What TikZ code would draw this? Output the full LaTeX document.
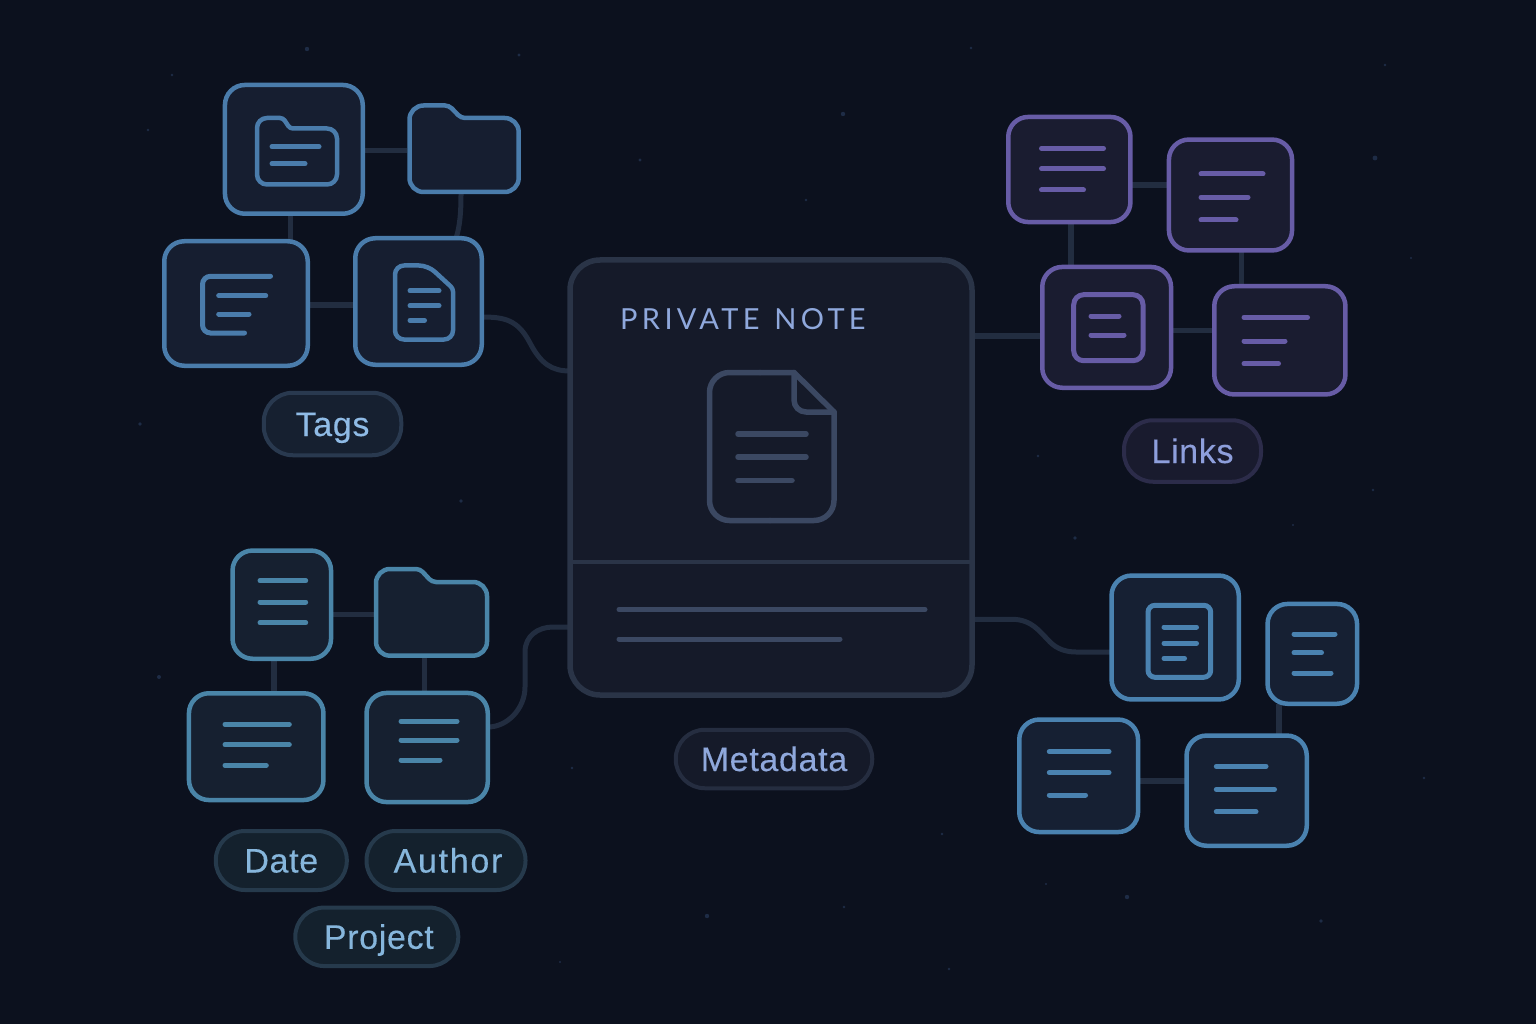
\documentclass[tikz,border=0pt]{standalone}
\usepackage{fontspec}
\setmainfont{Liberation Sans}
\newfontfamily\pillfont[LetterSpace=2,FakeBold=0.25]{Liberation Sans}
\newfontfamily\authorfont[LetterSpace=5,FakeBold=0.25]{Liberation Sans}
\newfontfamily\titlefont[LetterSpace=15]{Lato}
\usetikzlibrary{fit}
\definecolor{bgc}{HTML}{0C111E}
\definecolor{conc}{HTML}{222D40}
\definecolor{cardf}{HTML}{151A29}
\definecolor{cards}{HTML}{2A3447}
\definecolor{cardi}{HTML}{3B4862}
\definecolor{tagS}{HTML}{4A7CAB}
\definecolor{tagF}{HTML}{161E30}
\definecolor{prpS}{HTML}{675CA6}
\definecolor{prpF}{HTML}{1A1C30}
\definecolor{tealS}{HTML}{4A85A8}
\definecolor{tealF}{HTML}{162030}
\definecolor{rgtS}{HTML}{4A82B0}
\definecolor{rgtF}{HTML}{162033}
\definecolor{starc}{HTML}{1E2C46}
\pgfdeclarelayer{bgl}\pgfdeclarelayer{connl}
\pgfsetlayers{bgl,connl,main}
\tikzset{
  conn/.style={draw=conc,line width=5.5pt},
  curveconn/.style={draw=conc,line width=5pt},
  boxbase/.style={line width=4.5pt,rounded corners=20pt,inner sep=0pt,outer sep=0pt},
  tagbox/.style={boxbase,draw=tagS,fill=tagF},
  prpbox/.style={boxbase,draw=prpS,fill=prpF},
  tealbox/.style={boxbase,draw=tealS,fill=tealF},
  rgtbox/.style={boxbase,draw=rgtS,fill=rgtF},
  anchorbox/.style={inner sep=0pt,outer sep=0pt},
  tagline/.style={draw=tagS,line width=5pt,line cap=round,rounded corners=8pt},
  prpline/.style={draw=prpS,line width=5pt,line cap=round,rounded corners=8pt},
  tealline/.style={draw=tealS,line width=5pt,line cap=round},
  rgtline/.style={draw=rgtS,line width=5pt,line cap=round,rounded corners=7pt},
  cardline/.style={draw=cardi,line width=5.5pt,line cap=round,line join=round},
  pill/.style={line width=4pt,rounded corners=29pt,inner sep=0pt,outer sep=0pt,
    text height=24pt,text depth=0pt,font=\pillfont\fontsize{34}{40}\selectfont},
  tagpill/.style={pill,draw=HTMLpillA,fill=HTMLfillA,text=HTMLtextA},
  prppill/.style={pill,draw=HTMLpillB,fill=HTMLfillB,text=HTMLtextB},
  tealpill/.style={pill,draw=HTMLpillC,fill=HTMLfillC,text=HTMLtextC},
  metapill/.style={pill,draw=HTMLpillD,fill=HTMLfillD,text=HTMLtextD},
  star/.style={fill=starc,draw=none},
}
\definecolor{HTMLpillA}{HTML}{29394F}
\definecolor{HTMLfillA}{HTML}{162030}
\definecolor{HTMLtextA}{HTML}{8FBBE6}
\definecolor{HTMLpillB}{HTML}{2C2C4A}
\definecolor{HTMLfillB}{HTML}{191B2E}
\definecolor{HTMLtextB}{HTML}{8E9FDC}
\definecolor{HTMLpillC}{HTML}{263A4C}
\definecolor{HTMLfillC}{HTML}{14212D}
\definecolor{HTMLtextC}{HTML}{86B6DC}
\definecolor{HTMLpillD}{HTML}{252D40}
\definecolor{HTMLfillD}{HTML}{151A29}
\definecolor{HTMLtextD}{HTML}{8FA8DC}
\newcommand{\bxn}[6]{\node[#6,fit={(#2+2.25,#3+2.25)(#4-2.25,#5-2.25)}] (#1) {};}
\newcommand{\lin}[4]{\draw[#1] (#2,#4) -- (#3,#4);}
\begin{document}
\begin{tikzpicture}[x=1pt,y=-1pt]
\useasboundingbox (0,0) rectangle (1536,1024);
\begin{pgfonlayer}{bgl}
\fill[bgc] (0,0) rectangle (1536,1024);
\foreach \px/\py/\r in {307/49/2.2,519/55/1.6,843/114/2.2,1375/158/2.4,172/75/1.4,148/130/1.4,640/160/1.6,806/200/1.4,140/424/1.8,461/501/1.8,159/677/2,572/768/1.4,707/916/2.2,1127/897/2.2,1321/921/1.8,1424/778/1.4,1373/490/1.4,1075/538/1.8,1038/456/1.4,942/834/1.4,949/969/1.4,844/907/1.4,971/48/1.4,1385/65/1.4,1411/258/1.2,1293/525/1.2,560/962/1.2,1046/884/1.2}
  \fill[star] (\px,\py) circle (\r);
\end{pgfonlayer}

% Central card
\node[line width=5.5pt,draw=cards,fill=cardf,rounded corners=30pt,inner sep=0pt,outer sep=0pt,fit={(570,260)(972,695)}] (card) {};
\node[anchor=base west,text=HTMLtextD,font=\titlefont\fontsize{29}{34}\selectfont,inner sep=0pt] (title) at (620,329) {PRIVATE\hspace{3pt} NOTE};
\draw[cardline,rounded corners=20pt] (770,520.5) -- (709.5,520.5) -- (709.5,372.5) -- (760,372.5);
\draw[cardline] (760,372.5) -- (794,372.5) -- (834,412);
\draw[cardline,rounded corners=20pt] (770,520.5) -- (834,520.5) -- (834,412);
\draw[cardline,rounded corners=12pt] (794,372.5) -- (794,412) -- (834,412);
\lin{cardline}{738}{806}{434}
\lin{cardline}{738}{806}{457}
\lin{cardline}{738}{792}{480.5}
\draw[draw=cards,line width=4.5pt] (card.west |- 0,562) -- (card.east |- 0,562);
\lin{draw=cardi,line width=5pt,line cap=round}{619}{925}{609.5}
\lin{draw=cardi,line width=5pt,line cap=round}{619}{840}{639}

% Tags group
\bxn{ta}{222.7}{82.7}{365}{216}{tagbox}
\node[anchorbox,fit={(407,103)(520.7,194)}] (tb) {};
\fill[tagF] (464,192) [rounded corners=14pt] -- (409.5,192) -- (409.5,105.5) [rounded corners=4pt] -- (449,105.5) -- (461,118) [rounded corners=14pt] -- (518.7,118) -- (518.7,192) -- cycle;
\draw[tagS,line width=4.5pt] (464,192) [rounded corners=14pt] -- (409.5,192) -- (409.5,105.5) [rounded corners=4pt] -- (449,105.5) -- (461,118) [rounded corners=14pt] -- (518.7,118) -- (518.7,192) -- (464,192);
\bxn{tc}{162}{239}{310}{368}{tagbox}
\bxn{td}{353}{236}{484}{367}{tagbox}
\draw[tagS,line width=4.5pt] (300,184.5) [rounded corners=10pt] -- (257,184.5) -- (257,118) [rounded corners=3pt] -- (283,118) -- (290,128.5) [rounded corners=10pt] -- (337,128.5) -- (337,184.5) -- (300,184.5);
\lin{tagline}{272}{319}{146.7}
\lin{tagline}{272}{305}{163.7}
\draw[tagline] (270.5,276.3) -- (202.5,276.3) -- (202.5,333) -- (244.5,333);
\lin{tagline}{218.7}{265.7}{295.7}
\lin{tagline}{218.7}{249}{314}
\draw[tagS,line width=4.5pt,line join=round] (420,339.5) [rounded corners=9pt] -- (395,339.5) -- (395,265.5) -- (428,265.5) [rounded corners=3pt] -- (453,288.5) [rounded corners=9pt] -- (453,339.5) -- (420,339.5);
\lin{tagline}{410}{439}{290.7}
\lin{tagline}{410}{439}{305.7}
\lin{tagline}{410}{424.5}{320.3}
\begin{pgfonlayer}{connl}
\draw[conn] (ta.east |- 0,150.7) -- (tb.west |- 0,150.7);
\draw[conn] (ta.south -| 290.7,0) -- (tc.north -| 290.7,0);
\draw[conn] (tc.east |- 0,305) -- (td.west |- 0,305);
\draw[curveconn] (tb.south -| 461,0) .. controls (461,212) and (460,226) .. (td.north -| 456,0);
\draw[curveconn] (td.east |- 0,317) .. controls (505,317) and (518,320) .. (530,343) .. controls (541,364) and (552,371) .. (card.west |- 0,371);
\end{pgfonlayer}
\node[tagpill,minimum width=137.5pt,minimum height=62.5pt] (tags) at (332.5,424) {Tags};

% Links group
\bxn{la}{1006}{114.7}{1132.7}{224.3}{prpbox}
\bxn{lb}{1166.7}{137.3}{1294.3}{252.7}{prpbox}
\bxn{lc}{1040}{264.7}{1173.3}{390}{prpbox}
\bxn{ld}{1212}{284}{1347.7}{396.7}{prpbox}
\lin{prpline}{1041.5}{1103.5}{148.3}
\lin{prpline}{1041.5}{1103.5}{168.7}
\lin{prpline}{1041.5}{1083.5}{190}
\lin{prpline}{1201}{1263}{174}
\lin{prpline}{1201}{1248}{197.3}
\lin{prpline}{1201}{1236}{220}
\draw[prpline,rounded corners=10pt] (1108,294.7) -- (1143,294.7) -- (1143,360.7) -- (1073.7,360.7) -- (1073.7,294.7) -- cycle;
\lin{prpline}{1091}{1119}{316}
\lin{prpline}{1091}{1124}{335}
\lin{prpline}{1244}{1307.5}{317.3}
\lin{prpline}{1244}{1285}{341}
\lin{prpline}{1244}{1278.5}{363.7}
\begin{pgfonlayer}{connl}
\draw[conn] (la.east |- 0,185) -- (lb.west |- 0,185);
\draw[conn] (la.south -| 1071,0) -- (lc.north -| 1071,0);
\draw[conn] (lb.south -| 1241.7,0) -- (ld.north -| 1241.7,0);
\draw[conn] (lc.east |- 0,330.7) -- (ld.west |- 0,330.7);
\draw[conn] (card.east |- 0,336) -- (lc.west |- 0,336);
\end{pgfonlayer}
\node[prppill,minimum width=137pt,minimum height=61.5pt] (links) at (1192.5,451) {Links};

% Metadata pill
\node[metapill,minimum width=196.5pt,minimum height=58.5pt] (meta) at (774,759) {Metadata};

% Lower-left group
\bxn{ba}{230.3}{548.3}{333.3}{661}{tealbox}
\node[anchorbox,fit={(374,566.7)(489,657.7)}] (bb) {};
\fill[tealF] (430,655.7) [rounded corners=14pt] -- (376,655.7) -- (376,569) [rounded corners=4pt] -- (420,569) -- (432,582) [rounded corners=14pt] -- (487,582) -- (487,655.7) -- cycle;
\draw[tealS,line width=4.5pt] (430,655.7) [rounded corners=14pt] -- (376,655.7) -- (376,569) [rounded corners=4pt] -- (420,569) -- (432,582) [rounded corners=14pt] -- (487,582) -- (487,655.7) -- (430,655.7);
\bxn{bc}{186.7}{691}{325.7}{802.3}{tealbox}
\bxn{bd}{364.3}{690.7}{490}{804.3}{tealbox}
\lin{tealline}{260}{305.7}{580.7}
\lin{tealline}{260}{305.7}{602}
\lin{tealline}{260}{305.7}{622.7}
\lin{tealline}{225}{289.3}{724.3}
\lin{tealline}{225}{289.3}{744.7}
\lin{tealline}{225}{266.3}{765.3}
\lin{tealline}{401}{457}{721.3}
\lin{tealline}{401}{457}{740}
\lin{tealline}{401}{440}{760}
\begin{pgfonlayer}{connl}
\draw[conn] (ba.east |- 0,614.7) -- (bb.west |- 0,614.7);
\draw[conn] (ba.south -| 274,0) -- (bc.north -| 274,0);
\draw[conn] (bb.south -| 424.7,0) -- (bd.north -| 424.7,0);
\draw[curveconn] (bd.east |- 0,727) .. controls (508,727) and (525,708) .. (525,687) -- (525,652) .. controls (525,636) and (538,627) .. (553,627) -- (card.west |- 0,627);
\end{pgfonlayer}
\node[tealpill,minimum width=131pt,minimum height=59pt] (date) at (281.3,860.5) {Date};
\node[tealpill,minimum width=159pt,minimum height=59pt,font=\authorfont\fontsize{34}{40}\selectfont] (author) at (446,860.5) {\hspace*{4pt}Author};
\node[tealpill,minimum width=163pt,minimum height=58.5pt] (project) at (376.8,936.8) {\hspace*{4pt}Project};

% Lower-right group
\bxn{ra}{1109.3}{573.3}{1241}{701.7}{rgtbox}
\bxn{rb}{1265.3}{601.7}{1359.3}{706}{rgtbox}
\bxn{rc}{1017}{717.3}{1140.3}{834.3}{rgtbox}
\bxn{rd}{1184.3}{733.3}{1309}{848}{rgtbox}
\draw[rgtline] (1179,605.3) -- (1210.7,605.3) -- (1210.7,677.3) -- (1148,677.3) -- (1148,605.3) -- cycle;
\lin{rgtline}{1164}{1196.5}{627}
\lin{rgtline}{1164}{1196.5}{643.3}
\lin{rgtline}{1164}{1184.5}{658.3}
\lin{rgtline}{1294}{1335}{634}
\lin{rgtline}{1294}{1321.5}{652.7}
\lin{rgtline}{1294}{1331}{673}
\lin{rgtline}{1049.3}{1109}{751.7}
\lin{rgtline}{1049.3}{1109}{772.7}
\lin{rgtline}{1049.3}{1085.5}{795}
\lin{rgtline}{1216.3}{1266}{766.3}
\lin{rgtline}{1216.3}{1274.5}{789.3}
\lin{rgtline}{1216.3}{1256}{811.7}
\begin{pgfonlayer}{connl}
\draw[conn] (rc.east |- 0,781) -- (rd.west |- 0,781);
\draw[conn] (rb.south -| 1279,0) -- (rd.north -| 1279,0);
\draw[curveconn] (card.east |- 0,619.3) -- (1012,619.3) .. controls (1032,619.3) and (1040,632) .. (1050,642) .. controls (1057,649) and (1066,652) .. (1076,652) -- (ra.west |- 0,652);
\end{pgfonlayer}
\end{tikzpicture}
\end{document}
